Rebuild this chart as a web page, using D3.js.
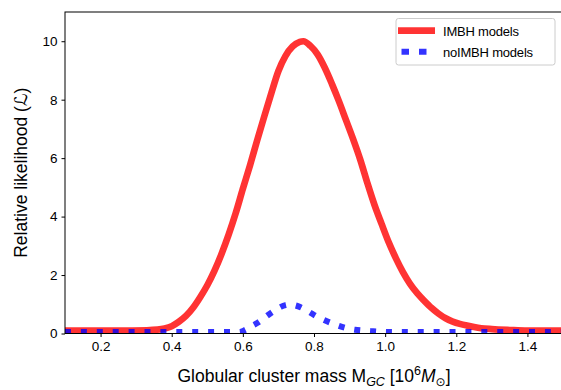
<!DOCTYPE html>
<html><head><meta charset="utf-8">
<script src="https://cdn.jsdelivr.net/npm/d3@7"></script>
<style>
body{margin:0;background:#fff;}
text{font-family:"Liberation Sans",Arial,sans-serif;fill:#000;}
</style></head>
<body><svg id="c" width="561" height="390"></svg>
<script>
// Data
const imbhX = [0.10,0.25,0.33,0.36,0.38,0.40,0.42,0.44,0.46,0.48,0.50,0.52,0.54,0.56,0.58,0.60,0.62,0.64,0.66,0.68,0.70,0.72,0.74,0.76,0.77,0.79,0.81,0.83,0.85,0.87,0.89,0.91,0.93,0.95,0.97,0.99,1.01,1.03,1.05,1.07,1.09,1.11,1.13,1.15,1.17,1.19,1.21,1.23,1.25,1.27,1.30,1.35,1.40,1.50];
const imbhY = [0.10,0.10,0.11,0.13,0.17,0.25,0.40,0.60,0.88,1.24,1.65,2.14,2.72,3.38,4.12,4.95,5.75,6.60,7.42,8.22,8.98,9.50,9.82,9.98,10.0,9.84,9.55,9.10,8.55,7.95,7.30,6.65,5.95,5.15,4.40,3.75,3.12,2.58,2.10,1.70,1.38,1.12,0.88,0.68,0.52,0.41,0.33,0.27,0.22,0.18,0.15,0.12,0.10,0.10];
const noimbhX = [0.10,0.40,0.59,0.606,0.626,0.646,0.664,0.681,0.695,0.708,0.72,0.732,0.745,0.758,0.772,0.79,0.808,0.83,0.85,0.87,0.892,0.915,0.939,0.96,0.986,1.05,1.50];
const noimbhY = [0.05,0.05,0.05,0.12,0.26,0.40,0.57,0.72,0.83,0.92,0.97,0.99,0.97,0.92,0.84,0.71,0.58,0.45,0.35,0.26,0.18,0.13,0.10,0.08,0.06,0.05,0.05];
const xTicks = [0.2,0.4,0.6,0.8,1.0,1.2,1.4];
const yTicks = [0,2,4,6,8,10];
const seriesNames = ["IMBH models","noIMBH models"];

const svg = d3.select("#c");
const L=65, R=563, T=12, B=333.5;
const x = d3.scaleLinear().domain([0.1,1.5]).range([L,R]);
const y = d3.scaleLinear().domain([0,11]).range([B,T]);

svg.append("defs").append("clipPath").attr("id","clip")
  .append("rect").attr("x",L).attr("y",T).attr("width",R-L).attr("height",B-T);

const line = d3.line().x(d=>x(d[0])).y(d=>y(d[1])).curve(d3.curveMonotoneX);
const g = svg.append("g").attr("clip-path","url(#clip)");
g.append("path").datum(d3.zip(imbhX,imbhY)).attr("d",line)
  .attr("fill","none").attr("stroke","#ff0000").attr("stroke-opacity",0.8).attr("stroke-width",6.7)
  .attr("stroke-linejoin","round");
g.append("path").datum(d3.zip(noimbhX,noimbhY)).attr("d",line)
  .attr("fill","none").attr("stroke","#0000ff").attr("stroke-opacity",0.8).attr("stroke-width",6)
  .attr("stroke-dasharray","6,9.9");

// frame
svg.append("rect").attr("x",L).attr("y",T).attr("width",R-L).attr("height",B-T)
  .attr("fill","none").attr("stroke","#000").attr("stroke-width",1);

const xa = svg.append("g").attr("transform",`translate(0,${B})`)
  .call(d3.axisBottom(x).tickValues(xTicks).tickFormat(d3.format(".1f")).tickSize(3.5).tickPadding(4));
const ya = svg.append("g").attr("transform",`translate(${L},0)`)
  .call(d3.axisLeft(y).tickValues(yTicks).tickFormat(d3.format("d")).tickSize(3.5).tickPadding(4));
[xa,ya].forEach(a=>{
  a.select(".domain").remove();
  a.selectAll("line").attr("stroke","#000");
  a.selectAll("text").attr("font-size",13.5).attr("font-family","Liberation Sans, Arial, sans-serif").attr("fill","#000");
});

// x label
const xl = svg.append("text").attr("x",(L+R)/2).attr("y",382).attr("text-anchor","middle").attr("font-size",17.5);
xl.append("tspan").text("Globular cluster mass M");
xl.append("tspan").attr("dy",3.5).attr("font-size",12.5).attr("font-style","italic").text("GC");
xl.append("tspan").attr("dy",-3.5).text(" [10");
xl.append("tspan").attr("dy",-7).attr("font-size",12.5).text("6");
xl.append("tspan").attr("dy",7).attr("font-style","italic").text("M");
xl.append("tspan").attr("dy",3.5).attr("font-size",12).attr("font-family","DejaVu Sans").text("⊙");
xl.append("tspan").attr("dy",-3.5).text("]");

// y label
const yl = svg.append("text").attr("transform",`translate(27.3,${(T+B)/2}) rotate(-90)`)
  .attr("text-anchor","middle").attr("font-size",17.5);
yl.append("tspan").text("Relative likelihood (");
yl.append("tspan").attr("font-family","DejaVu Sans").text("ℒ");
yl.append("tspan").text(")");

// legend
const lg = svg.append("g");
lg.append("rect").attr("x",396).attr("y",18.5).attr("width",159).attr("height",46.5).attr("rx",2.5)
  .attr("fill","#fff").attr("fill-opacity",0.8).attr("stroke","#cccccc").attr("stroke-width",1);
lg.append("line").attr("x1",398).attr("x2",435).attr("y1",30.7).attr("y2",30.7)
  .attr("stroke","#ff0000").attr("stroke-opacity",0.8).attr("stroke-width",6.7);
lg.append("line").attr("x1",401.5).attr("x2",428).attr("y1",51.7).attr("y2",51.7)
  .attr("stroke","#0000ff").attr("stroke-opacity",0.8).attr("stroke-width",6).attr("stroke-dasharray","7.5,10");
lg.selectAll("text.lt").data(seriesNames).enter().append("text").attr("class","lt")
  .attr("x",443).attr("y",(d,i)=>35.5+i*21).attr("font-size",13).attr("letter-spacing",-0.2).text(d=>d);
</script></body></html>
